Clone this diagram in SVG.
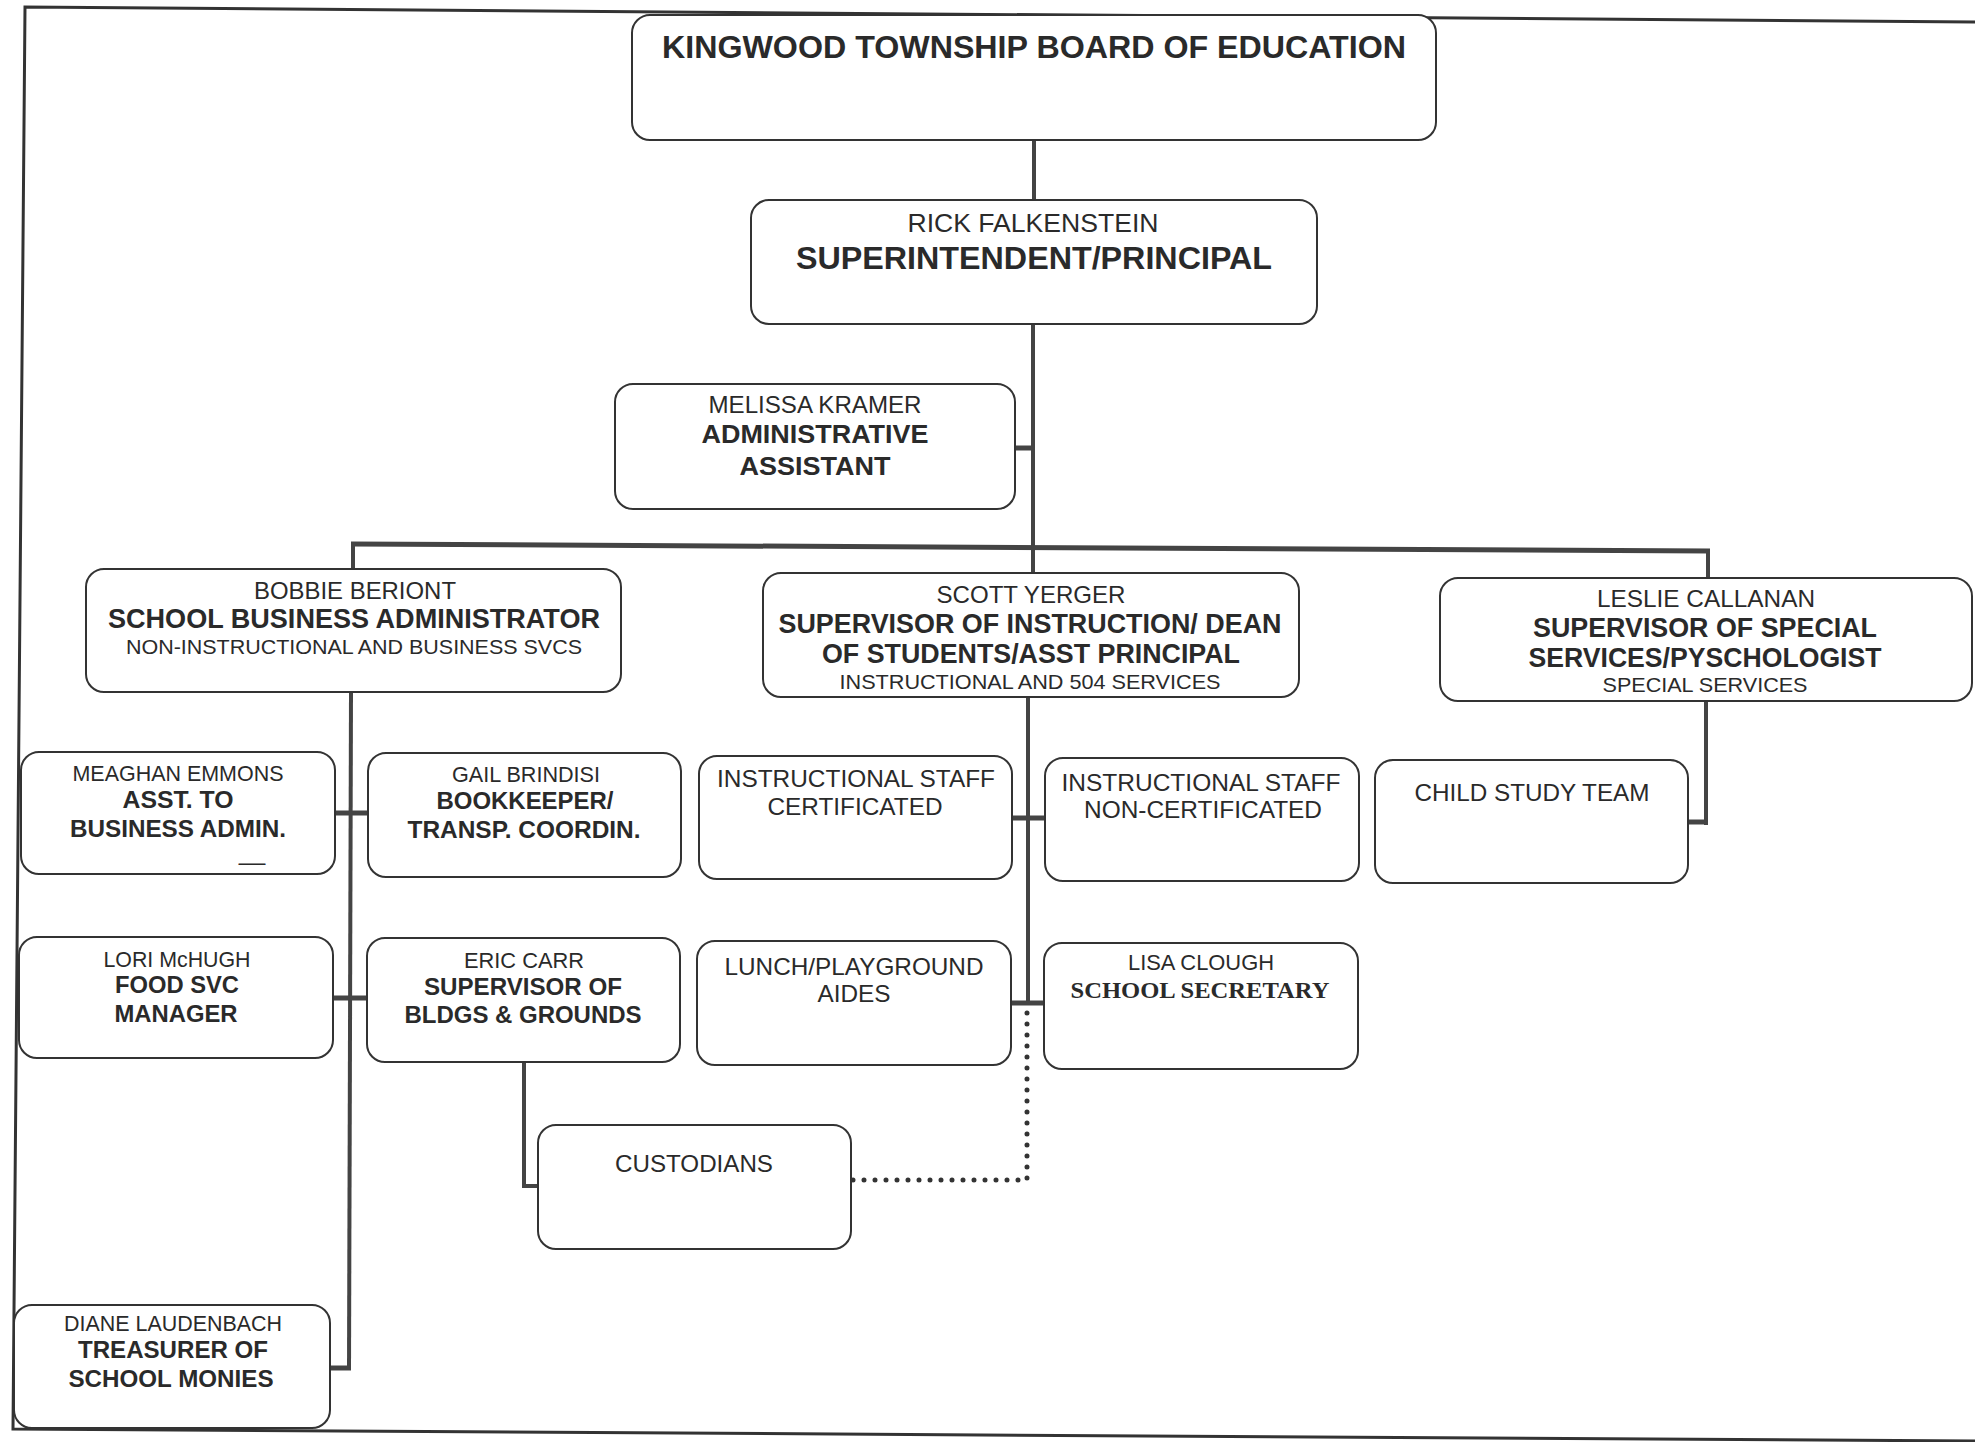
<svg xmlns="http://www.w3.org/2000/svg" width="1975" height="1442" viewBox="0 0 1975 1442">
<style>
.box{fill:#fff;stroke:#333;stroke-width:2}
.t{font-family:"Liberation Sans",Arial,sans-serif;fill:#2a2a2a;text-anchor:middle}
.b{font-weight:bold}
.sf{font-family:"Liberation Serif","Times New Roman",serif;font-weight:bold}
.c{stroke:#444;stroke-width:4;fill:none}
.s{stroke:#444;stroke-width:5;fill:none}
.dot{stroke:#333;stroke-width:5;stroke-linecap:round;stroke-dasharray:0 11;fill:none}
.frame{stroke:#333;stroke-width:3;fill:none}
</style>
<rect width="1975" height="1442" fill="#fff"/>
<polyline class="frame" points="1975,22 25,7 13,1429 1975,1441"/>

<g id="connectors">
  <line class="c" x1="1034" y1="140" x2="1034" y2="201"/>
  <line class="c" x1="1033" y1="324" x2="1033" y2="573"/>
  <line class="s" x1="1015" y1="448" x2="1033" y2="448"/>
  <line class="s" x1="351" y1="544" x2="1710" y2="551"/>
  <line class="c" x1="353" y1="544" x2="353" y2="569"/>
  <line class="c" x1="1708" y1="551" x2="1708" y2="578"/>
  <line class="c" x1="351" y1="692" x2="349" y2="1370"/>
  <line class="s" x1="335" y1="813" x2="368" y2="813"/>
  <line class="s" x1="333" y1="998" x2="367" y2="998"/>
  <line class="s" x1="330" y1="1368" x2="351" y2="1368"/>
  <polyline class="c" points="524,1062 524,1186 538,1186"/>
  <line class="c" x1="1028" y1="697" x2="1028" y2="1005"/>
  <line class="s" x1="1012" y1="818" x2="1045" y2="818"/>
  <line class="s" x1="1011" y1="1003" x2="1044" y2="1003"/>
  <line class="c" x1="1706" y1="701" x2="1706" y2="825"/>
  <line class="s" x1="1688" y1="822" x2="1708" y2="822"/>
  <polyline class="dot" points="1027,1013 1027,1180 852,1180"/>
</g>

<g id="board">
  <rect class="box" x="632" y="15" width="804" height="125" rx="18"/>
  <text class="t b" x="1034" y="58" font-size="32" textLength="744" lengthAdjust="spacingAndGlyphs">KINGWOOD TOWNSHIP BOARD OF EDUCATION</text>
</g>
<g id="superintendent">
  <rect class="box" x="751" y="200" width="566" height="124" rx="18"/>
  <text class="t" x="1033" y="232" font-size="26" textLength="251" lengthAdjust="spacingAndGlyphs">RICK FALKENSTEIN</text>
  <text class="t b" x="1034" y="269" font-size="32" textLength="476" lengthAdjust="spacingAndGlyphs">SUPERINTENDENT/PRINCIPAL</text>
</g>
<g id="admin-assistant">
  <rect class="box" x="615" y="384" width="400" height="125" rx="18"/>
  <text class="t" x="815" y="413" font-size="24" textLength="213" lengthAdjust="spacingAndGlyphs">MELISSA KRAMER</text>
  <text class="t b" x="815" y="443" font-size="26" textLength="227" lengthAdjust="spacingAndGlyphs">ADMINISTRATIVE</text>
  <text class="t b" x="815" y="475" font-size="26" textLength="151" lengthAdjust="spacingAndGlyphs">ASSISTANT</text>
</g>
<g id="business-admin">
  <rect class="box" x="86" y="569" width="535" height="123" rx="18"/>
  <text class="t" x="355" y="599" font-size="24" textLength="202" lengthAdjust="spacingAndGlyphs">BOBBIE BERIONT</text>
  <text class="t b" x="354" y="628" font-size="27" textLength="492" lengthAdjust="spacingAndGlyphs">SCHOOL BUSINESS ADMINISTRATOR</text>
  <text class="t" x="354" y="654" font-size="21" textLength="456" lengthAdjust="spacingAndGlyphs">NON-INSTRUCTIONAL AND BUSINESS SVCS</text>
</g>
<g id="supervisor-instruction">
  <rect class="box" x="763" y="573" width="536" height="124" rx="18"/>
  <text class="t" x="1031" y="603" font-size="24" textLength="189" lengthAdjust="spacingAndGlyphs">SCOTT YERGER</text>
  <text class="t b" x="1030" y="633" font-size="27" textLength="503" lengthAdjust="spacingAndGlyphs">SUPERVISOR OF INSTRUCTION/ DEAN</text>
  <text class="t b" x="1031" y="663" font-size="27" textLength="418" lengthAdjust="spacingAndGlyphs">OF STUDENTS/ASST PRINCIPAL</text>
  <text class="t" x="1030" y="689" font-size="21" textLength="381" lengthAdjust="spacingAndGlyphs">INSTRUCTIONAL AND 504 SERVICES</text>
</g>
<g id="supervisor-special">
  <rect class="box" x="1440" y="578" width="532" height="123" rx="18"/>
  <text class="t" x="1706" y="607" font-size="24" textLength="218" lengthAdjust="spacingAndGlyphs">LESLIE CALLANAN</text>
  <text class="t b" x="1705" y="637" font-size="27" textLength="344" lengthAdjust="spacingAndGlyphs">SUPERVISOR OF SPECIAL</text>
  <text class="t b" x="1705" y="667" font-size="27" textLength="353" lengthAdjust="spacingAndGlyphs">SERVICES/PYSCHOLOGIST</text>
  <text class="t" x="1705" y="692" font-size="21" textLength="205" lengthAdjust="spacingAndGlyphs">SPECIAL SERVICES</text>
</g>
<g id="asst-business-admin">
  <rect class="box" x="21" y="752" width="314" height="122" rx="18"/>
  <text class="t" x="178" y="781" font-size="22" textLength="211" lengthAdjust="spacingAndGlyphs">MEAGHAN EMMONS</text>
  <text class="t b" x="178" y="808" font-size="24" textLength="111" lengthAdjust="spacingAndGlyphs">ASST. TO</text>
  <text class="t b" x="178" y="837" font-size="24" textLength="216" lengthAdjust="spacingAndGlyphs">BUSINESS ADMIN.</text>
  <text class="t" x="252" y="870" font-size="24" textLength="27" lengthAdjust="spacingAndGlyphs">—</text>
</g>
<g id="bookkeeper">
  <rect class="box" x="368" y="753" width="313" height="124" rx="18"/>
  <text class="t" x="526" y="782" font-size="22" textLength="148" lengthAdjust="spacingAndGlyphs">GAIL BRINDISI</text>
  <text class="t b" x="525" y="809" font-size="24" textLength="177" lengthAdjust="spacingAndGlyphs">BOOKKEEPER/</text>
  <text class="t b" x="524" y="838" font-size="24" textLength="233" lengthAdjust="spacingAndGlyphs">TRANSP. COORDIN.</text>
</g>
<g id="instr-certificated">
  <rect class="box" x="699" y="756" width="313" height="123" rx="18"/>
  <text class="t" x="856" y="787" font-size="24" textLength="278" lengthAdjust="spacingAndGlyphs">INSTRUCTIONAL STAFF</text>
  <text class="t" x="855" y="815" font-size="24" textLength="175" lengthAdjust="spacingAndGlyphs">CERTIFICATED</text>
</g>
<g id="instr-noncertificated">
  <rect class="box" x="1045" y="758" width="314" height="123" rx="18"/>
  <text class="t" x="1201" y="791" font-size="24" textLength="279" lengthAdjust="spacingAndGlyphs">INSTRUCTIONAL STAFF</text>
  <text class="t" x="1203" y="818" font-size="24" textLength="238" lengthAdjust="spacingAndGlyphs">NON-CERTIFICATED</text>
</g>
<g id="child-study-team">
  <rect class="box" x="1375" y="760" width="313" height="123" rx="18"/>
  <text class="t" x="1532" y="801" font-size="24" textLength="235" lengthAdjust="spacingAndGlyphs">CHILD STUDY TEAM</text>
</g>
<g id="food-svc">
  <rect class="box" x="19" y="937" width="314" height="121" rx="18"/>
  <text class="t" x="177" y="967" font-size="22" textLength="147" lengthAdjust="spacingAndGlyphs">LORI McHUGH</text>
  <text class="t b" x="177" y="993" font-size="24" textLength="124" lengthAdjust="spacingAndGlyphs">FOOD SVC</text>
  <text class="t b" x="176" y="1022" font-size="24" textLength="123" lengthAdjust="spacingAndGlyphs">MANAGER</text>
</g>
<g id="bldgs-grounds">
  <rect class="box" x="367" y="938" width="313" height="124" rx="18"/>
  <text class="t" x="524" y="968" font-size="22" textLength="120" lengthAdjust="spacingAndGlyphs">ERIC CARR</text>
  <text class="t b" x="523" y="995" font-size="24" textLength="198" lengthAdjust="spacingAndGlyphs">SUPERVISOR OF</text>
  <text class="t b" x="523" y="1023" font-size="24" textLength="237" lengthAdjust="spacingAndGlyphs">BLDGS &amp; GROUNDS</text>
</g>
<g id="lunch-aides">
  <rect class="box" x="697" y="941" width="314" height="124" rx="18"/>
  <text class="t" x="854" y="975" font-size="24" textLength="259" lengthAdjust="spacingAndGlyphs">LUNCH/PLAYGROUND</text>
  <text class="t" x="854" y="1002" font-size="24" textLength="73" lengthAdjust="spacingAndGlyphs">AIDES</text>
</g>
<g id="school-secretary">
  <rect class="box" x="1044" y="943" width="314" height="126" rx="18"/>
  <text class="t" x="1201" y="970" font-size="22" textLength="146" lengthAdjust="spacingAndGlyphs">LISA CLOUGH</text>
  <text class="t sf" x="1200" y="998" font-size="24" textLength="259" lengthAdjust="spacingAndGlyphs">SCHOOL SECRETARY</text>
</g>
<g id="custodians">
  <rect class="box" x="538" y="1125" width="313" height="124" rx="18"/>
  <text class="t" x="694" y="1172" font-size="24" textLength="158" lengthAdjust="spacingAndGlyphs">CUSTODIANS</text>
</g>
<g id="treasurer">
  <rect class="box" x="14" y="1305" width="316" height="123" rx="18"/>
  <text class="t" x="173" y="1331" font-size="22" textLength="218" lengthAdjust="spacingAndGlyphs">DIANE LAUDENBACH</text>
  <text class="t b" x="173" y="1358" font-size="24" textLength="190" lengthAdjust="spacingAndGlyphs">TREASURER OF</text>
  <text class="t b" x="171" y="1387" font-size="24" textLength="205" lengthAdjust="spacingAndGlyphs">SCHOOL MONIES</text>
</g>
</svg>
